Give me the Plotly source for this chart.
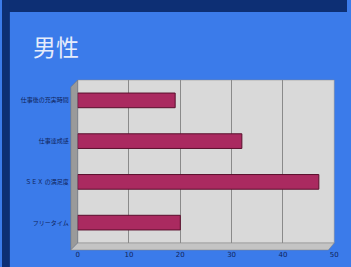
import plotly.graph_objects as go

categories = ["フリータイム", "ＳＥＸ の満足度", "仕事達成感", "仕事後の充実時間"]
values = [20, 47, 32, 19]
tick_vals = [0, 10, 20, 30, 40, 50]
tick_text = ["0", "10", "20", "30", "40", "50"]
title_text = "男性"

W, H = 351, 267
def px(x):
    return x / W
def py(y):
    return 1 - y / H

x0, x1 = 77, 338
y0, y1 = 80, 243

fig = go.Figure()
fig.add_trace(go.Bar(
    y=categories, x=values, orientation="h", width=0.36,
    marker=dict(color="#aa2a60", line=dict(color="#5a0f2c", width=1)),
    hoverinfo="skip", showlegend=False,
))

shapes = [
    # navy frame (top and left)
    dict(type="rect", xref="paper", yref="paper", x0=0, x1=1.0, y0=py(12), y1=1.0,
         fillcolor="#0d2f74", line=dict(width=0), layer="below"),
    dict(type="rect", xref="paper", yref="paper", x0=0, x1=px(8), y0=0, y1=1.0,
         fillcolor="#0d2f74", line=dict(width=0), layer="below"),
    # back wall
    dict(type="rect", xref="paper", yref="paper", x0=px(x0), x1=px(x1), y0=py(y1), y1=py(y0),
         fillcolor="#d9d9d9", line=dict(color="#8a8a8a", width=0.5), layer="below"),
    # left side wall
    dict(type="path", xref="paper", yref="paper",
         path=f"M {px(70)},{py(87)} L {px(x0)},{py(y0)} L {px(x0)},{py(y1)} L {px(70)},{py(250)} Z",
         fillcolor="#9a9a9a", line=dict(color="#707070", width=0.5), layer="below"),
    # floor
    dict(type="path", xref="paper", yref="paper",
         path=f"M {px(70)},{py(250)} L {px(x0)},{py(y1)} L {px(x1)},{py(y1)} L {px(332)},{py(250)} Z",
         fillcolor="#c4c4c4", line=dict(color="#808080", width=0.5), layer="below"),
]

fig.update_layout(
    width=W, height=H,
    margin=dict(l=0, r=0, t=0, b=0),
    paper_bgcolor="#3b7bea",
    plot_bgcolor="rgba(0,0,0,0)",
    shapes=shapes,
    bargap=0.6,
    xaxis=dict(
        domain=[px(x0), px(x1)], range=[0, 50],
        tickvals=tick_vals, ticktext=tick_text,
        showgrid=True, gridcolor="#8a8a8a", gridwidth=1,
        zeroline=False, showline=False,
        ticks="", ticklabelstandoff=6,
        tickfont=dict(size=7, color="#10245a", family="DejaVu Sans"),
        fixedrange=True, layer="above traces",
    ),
    yaxis=dict(
        domain=[py(y1), py(y0)],
        showgrid=False, zeroline=False, showline=False,
        ticks="", ticklabelstandoff=8,
        tickfont=dict(size=6, color="#10245a", family="Noto Sans CJK JP"),
        fixedrange=True,
    ),
    annotations=[
        dict(text=title_text, xref="paper", yref="paper", x=px(30), y=py(46),
             xanchor="left", yanchor="middle", showarrow=False,
             font=dict(size=23, color="#e6ecfb", family="Noto Sans CJK JP")),
    ],
)

fig.write_html("out.html", config={"displayModeBar": False},
               post_script="document.body.style.margin='0';document.body.style.overflow='hidden';")
